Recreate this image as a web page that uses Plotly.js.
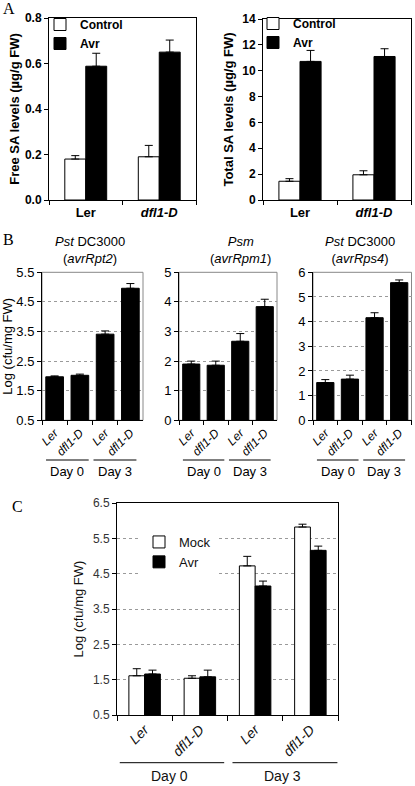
<!DOCTYPE html>
<html><head><meta charset="utf-8">
<script src="https://cdn.plot.ly/plotly-3.0.1.min.js"></script>
<style>html,body{margin:0;padding:0;background:#fff;} #chart{width:415px;height:786px;}</style>
</head><body><div id="chart"></div>
<script>
// ---------- Panel A data ----------
const saGenotypes = ["Ler", "dfl1-D"];
const saTickLabels = ["Ler", "<i>dfl1-D</i>"];
const freeSAControl = [0.18, 0.19];
const freeSAControlErr = [0.015, 0.05];
const freeSAAvr = [0.588, 0.65];
const freeSAAvrErr = [0.057, 0.053];
const totalSAControl = [1.45, 1.95];
const totalSAControlErr = [0.2, 0.31];
const totalSAAvr = [10.72, 11.1];
const totalSAAvrErr = [0.85, 0.6];

// ---------- Panel B data ----------
const growthCats = ["Ler (Day 0)", "dfl1-D (Day 0)", "Ler (Day 3)", "dfl1-D (Day 3)"];
const growthTickLabels = ["<i>Ler</i>", "<i>dfl1-D</i>", "<i>Ler</i>", "<i>dfl1-D</i>"];
const dayLabels = ["Day 0", "Day 3"];
const avrRpt2 = [1.97, 2.02, 3.41, 4.96];
const avrRpt2Err = [0.03, 0.04, 0.11, 0.16];
const avrRpm1 = [1.90, 1.86, 2.67, 3.84];
const avrRpm1Err = [0.10, 0.14, 0.26, 0.25];
const avrRps4 = [1.53, 1.67, 4.16, 5.58];
const avrRps4Err = [0.12, 0.16, 0.20, 0.11];
const panelBTitles = ["<i>Pst</i> DC3000<br>(<i>avrRpt2</i>)", "<i>Psm</i><br>(<i>avrRpm1</i>)", "<i>Pst</i> DC3000<br>(<i>avrRps4</i>)"];

// ---------- Panel C data ----------
const cMock = [1.61, 1.54, 4.72, 5.82];
const cMockErr = [0.20, 0.07, 0.27, 0.08];
const cAvr = [1.66, 1.58, 4.15, 5.16];
const cAvrErr = [0.11, 0.19, 0.14, 0.12];

// ---------- helpers ----------
const W = 415, H = 786;
const px = v => v / W;
const py = v => 1 - v / H;
const FONT = "Liberation Sans, Arial, sans-serif";
const SERIF = "Liberation Serif, Times New Roman, serif";
const zeros = arr => arr.map(() => 0);

function errs(arr) {
  return {type: 'data', array: arr, arrayminus: zeros(arr), symmetric: false,
          color: '#000', thickness: 1, width: 4};
}
function whiteBar(x, y, e, name, xa, ya, lg, show) {
  return {type: 'bar', x: x, y: y, name: name, xaxis: xa, yaxis: ya, legend: lg, showlegend: show,
          marker: {color: '#fff', line: {color: '#000', width: 1}}, error_y: errs(e), hoverinfo: 'skip'};
}
function blackBar(x, y, e, name, xa, ya, lg, show, width) {
  const t = {type: 'bar', x: x, y: y, name: name, xaxis: xa, yaxis: ya, legend: lg, showlegend: show,
          marker: {color: '#000', line: {color: '#000', width: 1}}, error_y: errs(e), hoverinfo: 'skip'};
  if (width) t.width = width;
  return t;
}

const traces = [
  whiteBar(saGenotypes, freeSAControl, freeSAControlErr, 'Control', 'x', 'y', 'legend', true),
  blackBar(saGenotypes, freeSAAvr, freeSAAvrErr, 'Avr', 'x', 'y', 'legend', true),
  whiteBar(saGenotypes, totalSAControl, totalSAControlErr, 'Control', 'x2', 'y2', 'legend2', true),
  blackBar(saGenotypes, totalSAAvr, totalSAAvrErr, 'Avr', 'x2', 'y2', 'legend2', true),
  blackBar(growthCats, avrRpt2, avrRpt2Err, 'avrRpt2', 'x3', 'y3', 'legend', false, 0.7),
  blackBar(growthCats, avrRpm1, avrRpm1Err, 'avrRpm1', 'x4', 'y4', 'legend', false, 0.7),
  blackBar(growthCats, avrRps4, avrRps4Err, 'avrRps4', 'x5', 'y5', 'legend', false, 0.7),
  whiteBar(growthCats, cMock, cMockErr, 'Mock', 'x6', 'y6', 'legend3', true),
  blackBar(growthCats, cAvr, cAvrErr, 'Avr', 'x6', 'y6', 'legend3', true)
];

function xAxis(dom, anchor, vals, text, opts) {
  return Object.assign({
    domain: [px(dom[0]), px(dom[1])], anchor: anchor, type: 'category',
    tickmode: 'array', tickvals: vals, ticktext: text, tickson: 'boundaries',
    ticks: 'outside', ticklen: 4, tickcolor: '#000', tickwidth: 1,
    showline: true, linecolor: '#000', linewidth: 1, showgrid: false, zeroline: false,
    fixedrange: true
  }, opts);
}
function yAxis(dom, anchor, range, dtick, opts) {
  return Object.assign({
    domain: [py(dom[1]), py(dom[0])], anchor: anchor, range: range, dtick: dtick, tick0: range[0],
    ticks: 'outside', ticklen: 4, tickcolor: '#000', tickwidth: 1,
    showline: true, linecolor: '#000', linewidth: 1, zeroline: false, fixedrange: true
  }, opts);
}

const fontA = {family: FONT, size: 12, color: '#000', weight: 'bold'};
const fontAT = {family: FONT, size: 13, color: '#000', weight: 'bold'};
const fontB = {family: FONT, size: 12, color: '#000'};
const fontBT = {family: FONT, size: 13, color: '#000'};
const gridB = {showgrid: true, gridcolor: '#9a9a9a', griddash: 'dot', gridwidth: 1};

const layout = {
  width: W, height: H, margin: {l: 0, r: 0, t: 0, b: 0},
  paper_bgcolor: '#fff', plot_bgcolor: 'rgba(0,0,0,0)',
  barmode: 'group', bargap: 0.43, bargroupgap: 0,
  showlegend: true,
  font: {family: FONT, color: '#000'},
  // Panel A
  xaxis: xAxis([49, 196], 'y', saGenotypes, saTickLabels, {mirror: true, tickfont: fontAT}),
  yaxis: yAxis([18, 200], 'x', [0, 0.8], 0.2, {mirror: true, tickformat: '.1f', tickfont: fontA,
    showgrid: false, title: {text: 'Free SA levels (µg/g FW)', font: fontAT, standoff: 2}}),
  xaxis2: xAxis([263, 411], 'y2', saGenotypes, saTickLabels, {mirror: true, tickfont: fontAT}),
  yaxis2: yAxis([19, 200], 'x2', [0, 14], 2, {mirror: true, tickfont: fontA,
    showgrid: false, title: {text: 'Total SA levels (µg/g FW)', font: fontAT, standoff: 5}}),
  // Panel B
  xaxis3: xAxis([42, 143], 'y3', growthCats, growthTickLabels, {tickangle: -45, tickfont: fontB}),
  yaxis3: yAxis([272.3, 420.3], 'x3', [0.5, 5.5], 1, Object.assign({tickformat: '.1f', tickfont: fontBT,
    title: {text: 'Log (cfu/mg FW)', font: fontBT, standoff: 1}}, gridB)),
  xaxis4: xAxis([179, 277], 'y4', growthCats, growthTickLabels, {tickangle: -45, tickfont: fontB}),
  yaxis4: yAxis([272.3, 420.3], 'x4', [0, 5], 1, Object.assign({tickfont: fontBT}, gridB)),
  xaxis5: xAxis([313, 411.5], 'y5', growthCats, growthTickLabels, {tickangle: -45, tickfont: fontB}),
  yaxis5: yAxis([272.3, 420.3], 'x5', [0, 6], 1, Object.assign({tickfont: fontBT}, gridB)),
  // Panel C
  xaxis6: xAxis([117, 338], 'y6', growthCats, growthTickLabels, {mirror: true, tickangle: -45, ticklen: 5,
    tickfont: {family: FONT, size: 14, color: '#111'}}),
  yaxis6: yAxis([503, 715], 'x6', [0.5, 6.5], 1, Object.assign({mirror: true, tickformat: '.1f',
    tickfont: {family: FONT, size: 12, color: '#333'},
    title: {text: 'Log (cfu/mg FW)', font: {family: FONT, size: 13, color: '#111'}, standoff: 6}}, gridB)),
  legend: {x: px(40), y: py(10), xanchor: 'left', yanchor: 'top', bgcolor: 'rgba(0,0,0,0)',
           font: fontA, itemwidth: 30, tracegroupgap: 0},
  legend2: {x: px(253), y: py(9), xanchor: 'left', yanchor: 'top', bgcolor: 'rgba(0,0,0,0)',
           font: fontA, itemwidth: 30, tracegroupgap: 0},
  legend3: {x: px(139), y: py(527), xanchor: 'left', yanchor: 'top', bgcolor: '#fff',
           font: {family: FONT, size: 13, color: '#111'}, itemwidth: 30, tracegroupgap: 0},
  shapes: [],
  annotations: []
};

// gray frames for panel B
['x3', 'x4', 'x5'].forEach((xa, i) => {
  const ya = 'y' + (i + 3);
  layout.shapes.push({type: 'rect', xref: xa + ' domain', yref: ya + ' domain', x0: 0, x1: 1, y0: 0, y1: 1,
                      line: {color: '#888', width: 1}, layer: 'below'});
});

// Day group lines and labels under panel B
const bDaySpans = [[-0.34, 1.35], [1.54, 3.24]];
['x3', 'x4', 'x5'].forEach(xa => {
  bDaySpans.forEach((s, k) => {
    layout.shapes.push({type: 'line', xref: xa, yref: 'paper', x0: s[0], x1: s[1], y0: py(460), y1: py(460),
                        line: {color: '#000', width: 1}});
    layout.annotations.push({text: dayLabels[k], xref: xa, yref: 'paper', x: (s[0] + s[1]) / 2, y: py(471.5),
                             xanchor: 'center', yanchor: 'middle', showarrow: false, font: {family: FONT, size: 13, color: '#000'}});
  });
});
// Day group lines and labels under panel C
const cDaySpans = [[-0.45, 1.44], [1.59, 3.49]];
cDaySpans.forEach((s, k) => {
  layout.shapes.push({type: 'line', xref: 'x6', yref: 'paper', x0: s[0], x1: s[1], y0: py(762.7), y1: py(762.7),
                      line: {color: '#000', width: 1}});
  layout.annotations.push({text: dayLabels[k], xref: 'x6', yref: 'paper', x: (s[0] + s[1]) / 2 - 0.05, y: py(776),
                           xanchor: 'center', yanchor: 'middle', showarrow: false, font: {family: FONT, size: 14, color: '#111'}});
});

// Panel B titles
[[90], [240], [360]].forEach((c, i) => {
  layout.annotations.push({text: panelBTitles[i], xref: 'paper', yref: 'paper', x: px(c[0]), y: py(250),
                           xanchor: 'center', yanchor: 'middle', showarrow: false, align: 'center',
                           font: {family: FONT, size: 13, color: '#000'}});
});

// Panel letters
[['A', 1, 9], ['B', 1, 239], ['C', 10, 506]].forEach(p => {
  layout.annotations.push({text: p[0], xref: 'paper', yref: 'paper', x: px(p[1]), y: py(p[2]),
                           xanchor: 'left', yanchor: 'middle', showarrow: false,
                           font: {family: SERIF, size: 16, color: '#000'}});
});

Plotly.newPlot('chart', traces, layout, {staticPlot: true, displayModeBar: false});
</script></body></html>
